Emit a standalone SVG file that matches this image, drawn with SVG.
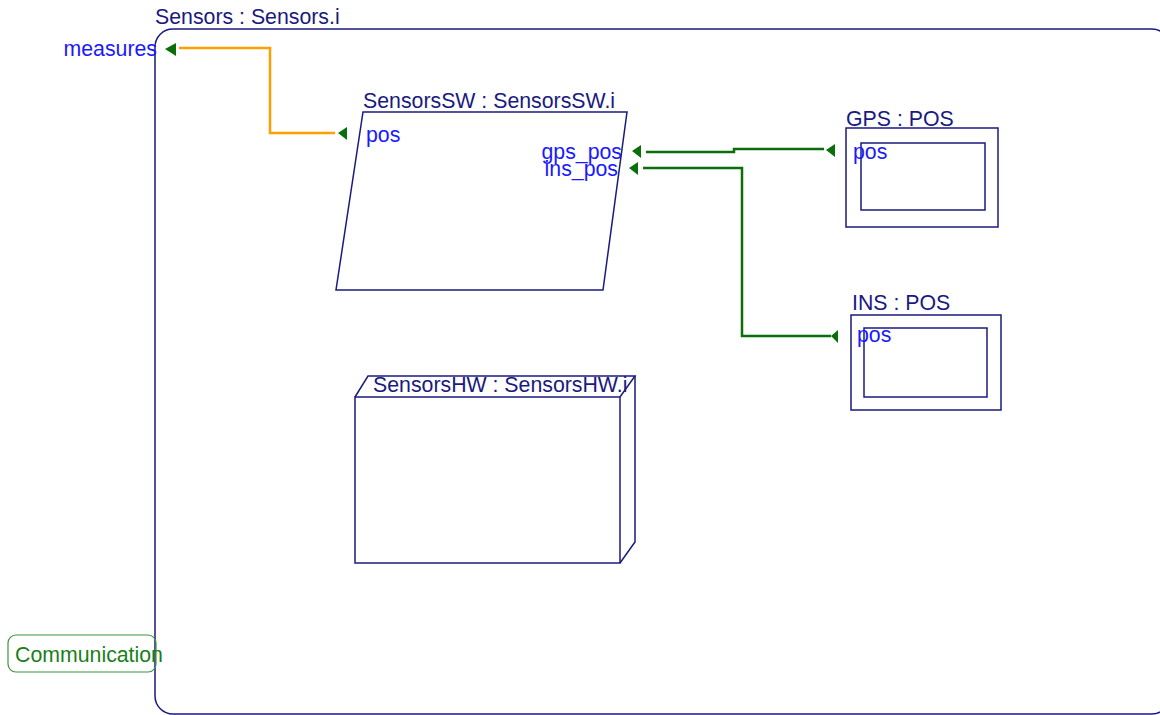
<svg xmlns="http://www.w3.org/2000/svg" width="1160" height="715" viewBox="0 0 1160 715">
<style>
  text { font-family: "Liberation Sans", Arial, sans-serif; font-size: 21.3px; }
  .title { fill: #1a1a80; }
  .port { fill: #1a1aff; }
  .shape { fill: none; stroke: #1a1a80; stroke-width: 1.5; }
  .tri { fill: #0a6e0a; stroke: none; }
  .green { fill: none; stroke: #0a6e0a; stroke-width: 2.5; }
  .orange { fill: none; stroke: #ffa000; stroke-width: 2.5; }
</style>
<rect width="1160" height="715" fill="#ffffff"/>
<g id="Sensors">
  <rect class="shape" x="155" y="29" width="1015" height="685" rx="18" ry="18"/>
  <text class="title" x="155" y="24">Sensors : Sensors.i</text>
  <text class="port" x="157" y="56" text-anchor="end">measures</text>
  <polygon class="tri" points="165,49 176,43 176,56"/>
</g>
<g id="SensorsSW">
  <polygon class="shape" points="363,112 627,112 603,290 336,290"/>
  <text class="title" x="363" y="108">SensorsSW : SensorsSW.i</text>
  <text class="port" x="366" y="142">pos</text>
  <text class="port" x="622" y="159" text-anchor="end">gps_pos</text>
  <text class="port" x="618" y="176" text-anchor="end">ins_pos</text>
  <polygon class="tri" points="338,133 347,127 347,140"/>
  <polygon class="tri" points="632,151 641,145 641,158"/>
  <polygon class="tri" points="629,168 638,162 638,175"/>
</g>
<g id="GPS">
  <rect class="shape" x="846" y="128" width="152" height="99"/>
  <rect class="shape" x="861" y="143" width="124" height="67"/>
  <text class="title" x="846" y="126">GPS : POS</text>
  <text class="port" x="853" y="159">pos</text>
  <polygon class="tri" points="826,150 835,144 835,157"/>
</g>
<g id="INS">
  <rect class="shape" x="851" y="315" width="150" height="95"/>
  <rect class="shape" x="864" y="328" width="123" height="69"/>
  <text class="title" x="852" y="310">INS : POS</text>
  <text class="port" x="857" y="342">pos</text>
  <polygon class="tri" points="831,336 838,330 838,343"/>
</g>
<g id="SensorsHW">
  <rect class="shape" x="355" y="397" width="265" height="166"/>
  <polyline class="shape" points="355,397 368,376 635,376 620,397"/>
  <polyline class="shape" points="635,376 635,542 620,563"/>
  <text class="title" x="373" y="392">SensorsHW : SensorsHW.i</text>
</g>
<g id="Communication">
  <rect x="8" y="635" width="148" height="37" rx="8" ry="8" fill="none" stroke="#3c963c" stroke-width="1.2"/>
  <text x="15" y="662" fill="#1a7f1a">Communication</text>
</g>
<g id="connectors">
  <polyline class="orange" points="179,48 270,48 270,133 335,133"/>
  <polyline class="green" points="646,152 734,152 734,149 824,149"/>
  <polyline class="green" points="643,168 742,168 742,336 831,336"/>
</g>
</svg>
